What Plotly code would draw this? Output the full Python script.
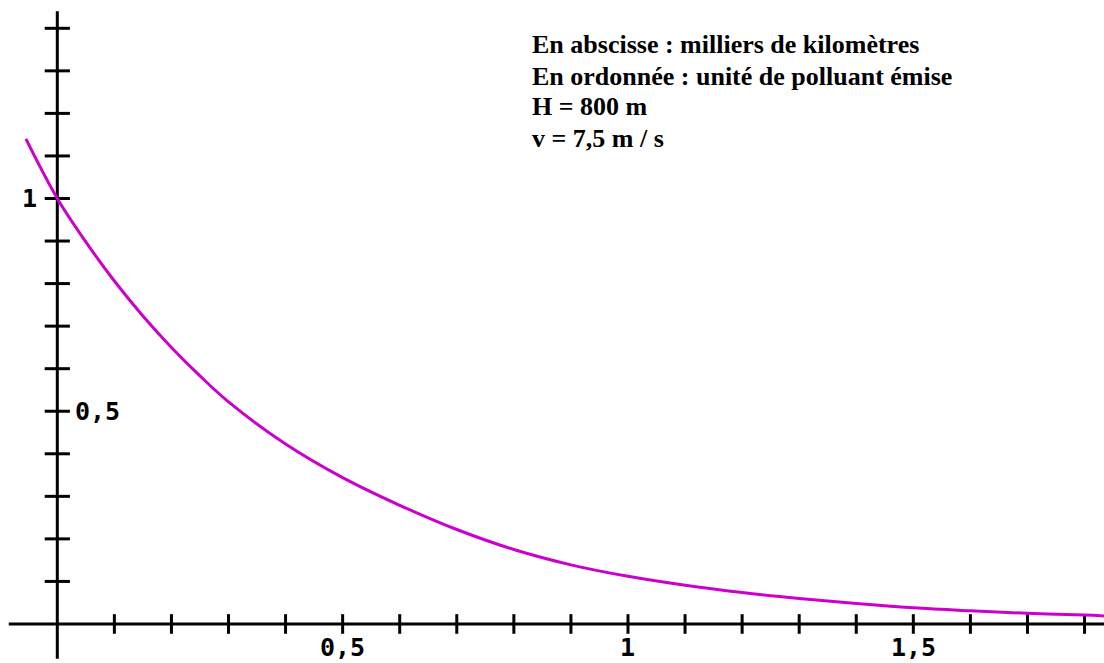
import plotly.graph_objects as go

# ---- data ----
distance_km = [-0.055, 0.0, 0.05, 0.1, 0.15, 0.2, 0.25, 0.3, 0.4, 0.5, 0.6, 0.7, 0.8, 0.9,
               1.0, 1.1, 1.2, 1.3, 1.4, 1.5, 1.6, 1.7, 1.8, 1.834]
pollutant = [1.14, 1.0, 0.898, 0.806, 0.724, 0.650, 0.583, 0.522, 0.423, 0.344, 0.279, 0.222,
             0.175, 0.139, 0.112, 0.091, 0.074, 0.060, 0.048, 0.038, 0.031, 0.025, 0.021, 0.019]

x_ticks = [0.1, 0.2, 0.3, 0.4, 0.5, 0.6, 0.7, 0.8, 0.9, 1.0, 1.1, 1.2, 1.3, 1.4, 1.5, 1.6, 1.7, 1.8]
y_ticks = [0.1, 0.2, 0.3, 0.4, 0.5, 0.6, 0.7, 0.8, 0.9, 1.0, 1.1, 1.2, 1.3, 1.4]
x_labels = [(0.5, "0,5"), (1.0, "1"), (1.5, "1,5")]
y_labels_left = [(1.0, "1")]
y_labels_right = [(0.5, "0,5")]
info_lines = [
    "En abscisse : milliers de kilomètres",
    "En ordonnée : unité de polluant émise",
    "H = 800 m",
    "v = 7,5 m / s",
]

# ---- layout constants ----
W, H = 1104, 663
X_RANGE = [-0.1004, 1.8341]
Y_RANGE = [-0.0917, 1.4665]
X_AXIS_START = -0.085
Y_AXIS_START = -0.082
Y_AXIS_END = 1.44
CURVE_COLOR = "#CC00CC"
TICK_FONT = dict(family="DejaVu Sans Mono", size=25, color="black", weight="bold")
INFO_FONT = dict(family="Liberation Serif", size=26, color="black", weight="bold")

fig = go.Figure()

# axis lines
fig.add_shape(type="line", xref="x", yref="y", x0=X_AXIS_START, x1=X_RANGE[1], y0=0, y1=0,
              line=dict(color="black", width=3), layer="below")
fig.add_shape(type="line", xref="x", yref="y", x0=0, x1=0, y0=Y_AXIS_START, y1=Y_AXIS_END,
              line=dict(color="black", width=3), layer="below")

# tick marks (crossing the axes)
fig.add_trace(go.Scatter(x=x_ticks, y=[0] * len(x_ticks), mode="markers", hoverinfo="skip",
                         marker=dict(symbol="line-ns", size=14, line=dict(color="black", width=3)),
                         showlegend=False))
fig.add_trace(go.Scatter(x=[0] * len(y_ticks), y=y_ticks, mode="markers", hoverinfo="skip",
                         marker=dict(symbol="line-ew", size=18, line=dict(color="black", width=3)),
                         showlegend=False))

# curve
fig.add_trace(go.Scatter(x=distance_km, y=pollutant, mode="lines",
                         line=dict(color=CURVE_COLOR, width=3, shape="spline", smoothing=1.0),
                         showlegend=False))

# tick labels
for xv, txt in x_labels:
    fig.add_annotation(x=xv, y=0, xref="x", yref="y", text=txt, showarrow=False,
                       xanchor="center", yanchor="middle", yshift=-24, font=TICK_FONT)
for yv, txt in y_labels_left:
    fig.add_annotation(x=0, y=yv, xref="x", yref="y", text=txt, showarrow=False,
                       xanchor="right", yanchor="middle", xshift=-18, font=TICK_FONT)
for yv, txt in y_labels_right:
    fig.add_annotation(x=0, y=yv, xref="x", yref="y", text=txt, showarrow=False,
                       xanchor="left", yanchor="middle", xshift=16, font=TICK_FONT)

# info block
for i, line in enumerate(info_lines):
    fig.add_annotation(x=530 / W, y=1 - (45 + i * 31) / H, xref="paper", yref="paper",
                       text=line, showarrow=False, xanchor="left", yanchor="middle",
                       font=INFO_FONT)

fig.update_layout(
    width=W, height=H,
    margin=dict(l=0, r=0, t=0, b=0),
    paper_bgcolor="white", plot_bgcolor="white",
    hovermode=False,
    xaxis=dict(range=X_RANGE, visible=False, showgrid=False, zeroline=False),
    yaxis=dict(range=Y_RANGE, visible=False, showgrid=False, zeroline=False),
)

fig.write_html("out.html",
               config={"displayModeBar": False, "staticPlot": True},
               post_script="document.body.style.margin='0';document.body.style.overflow='hidden';")
